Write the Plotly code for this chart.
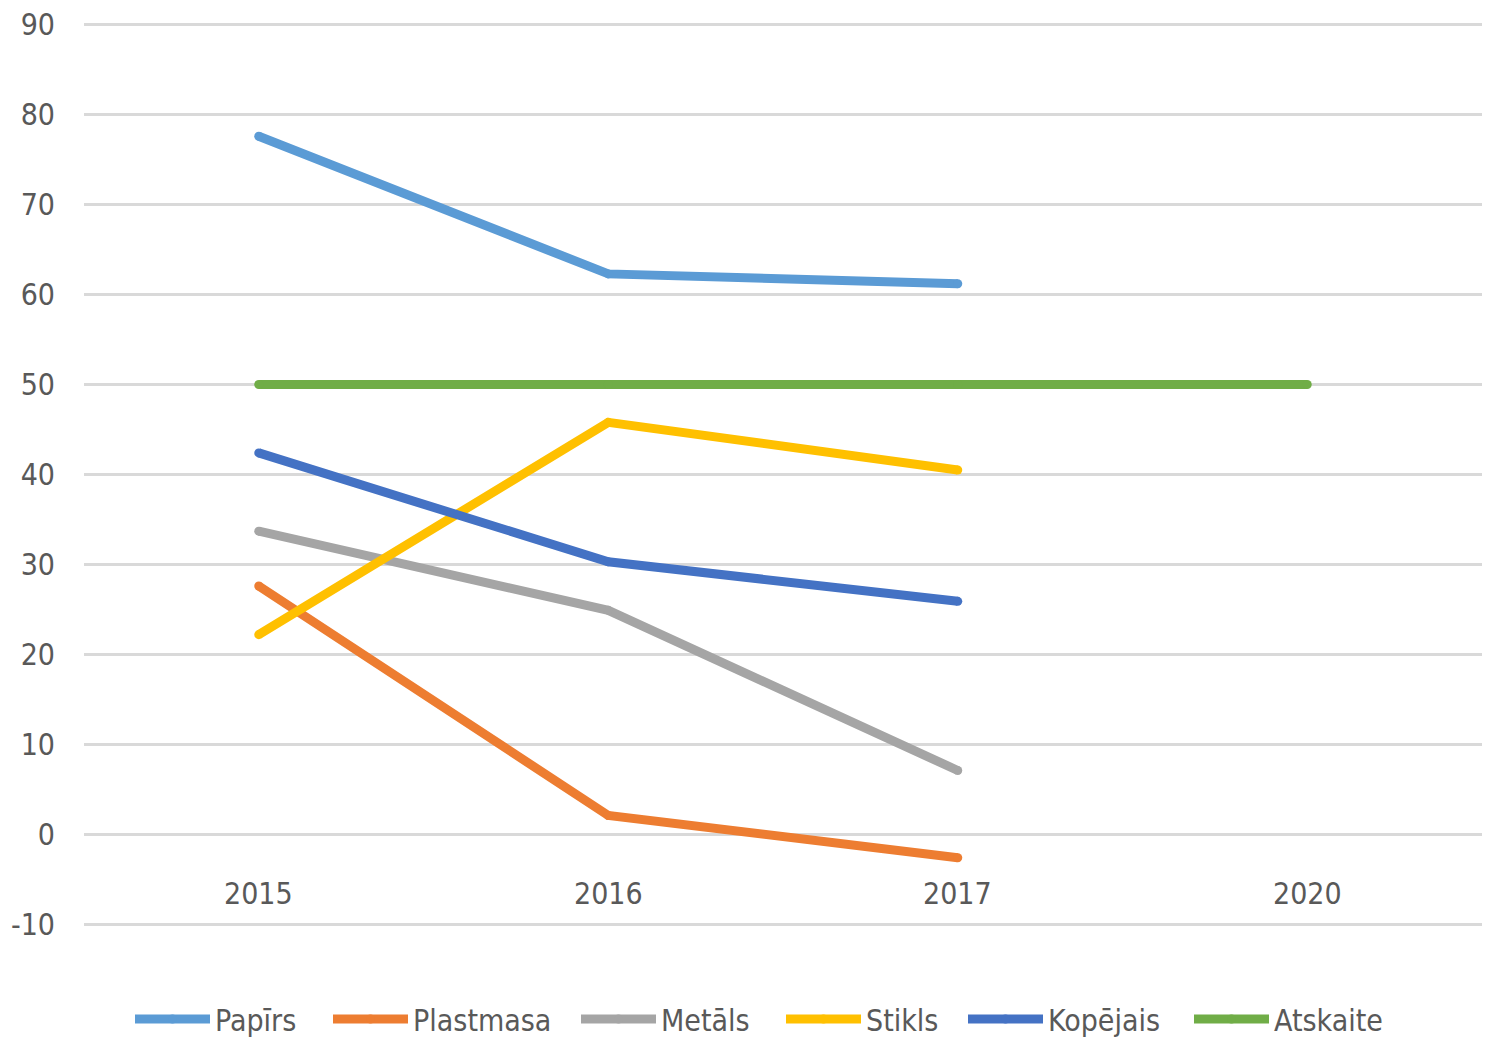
import plotly.graph_objects as go

years = ["2015", "2016", "2017", "2020"]
series_names = ["Papīrs", "Plastmasa", "Metāls", "Stikls", "Kopējais", "Atskaite"]
papirs = [77.6, 62.3, 61.2, None]
plastmasa = [27.6, 2.1, -2.6, None]
metals = [33.7, 24.9, 7.1, None]
stikls = [22.2, 45.8, 40.5, None]
kopejais = [42.4, 30.3, 25.9, None]
atskaite = [50, 50, 50, 50]
y_ticks = [-10, 0, 10, 20, 30, 40, 50, 60, 70, 80, 90]
y_labels = ["-10", "0", "10", "20", "30", "40", "50", "60", "70", "80", "90"]

colors = ["#5B9BD5", "#ED7D31", "#A5A5A5", "#FFC000", "#4472C4", "#70AD47"]
values = [papirs, plastmasa, metals, stikls, kopejais, atskaite]
# left edge (px) of each legend entry along the bottom row
legend_left_px = [138, 336, 584, 789, 971, 1197]

FONT = "DejaVu Sans Condensed, Liberation Sans Narrow, Arial Narrow, sans-serif"
TXT = "#595959"
W, H = 1491, 1041

fig = go.Figure()
legend_layout = {}
for k, (name, vals, col) in enumerate(zip(series_names, values, colors)):
    lg = "legend" if k == 0 else f"legend{k + 1}"
    fig.add_trace(go.Scatter(
        x=years, y=vals, name=name, mode="lines+markers",
        line=dict(color=col, width=9), marker=dict(color=col, size=9, line=dict(width=0)),
        connectgaps=False, legend=lg,
    ))
    legend_layout[lg] = dict(
        orientation="h", x=(legend_left_px[k] - 8) / W, xanchor="left", xref="container",
        y=22 / H, yanchor="middle", yref="container", bgcolor="rgba(0,0,0,0)",
        font=dict(family=FONT, size=30, color=TXT), itemwidth=75,
    )

for i, yr in enumerate(years):
    fig.add_annotation(x=i, y=0, xref="x", yref="y", text=yr, showarrow=False,
                       yshift=-59, font=dict(family=FONT, size=30, color=TXT))

fig.update_layout(
    width=W, height=H,
    margin=dict(l=84, r=9, t=22, b=114),
    plot_bgcolor="white", paper_bgcolor="white",
    font=dict(family=FONT, size=30, color=TXT),
    showlegend=True,
    xaxis=dict(type="category", range=[-0.5, 3.5], showticklabels=False,
               showgrid=False, zeroline=False, showline=False, automargin=False),
    yaxis=dict(range=[-10.3, 90.3], tickvals=y_ticks, ticktext=y_labels,
               showgrid=True, gridcolor="#D9D9D9",
               gridwidth=3, zeroline=False, showline=False, ticklabelstandoff=28,
               automargin=False,
               tickfont=dict(family=FONT, size=30, color=TXT)),
    **legend_layout,
)

fig.write_html("out.html")
